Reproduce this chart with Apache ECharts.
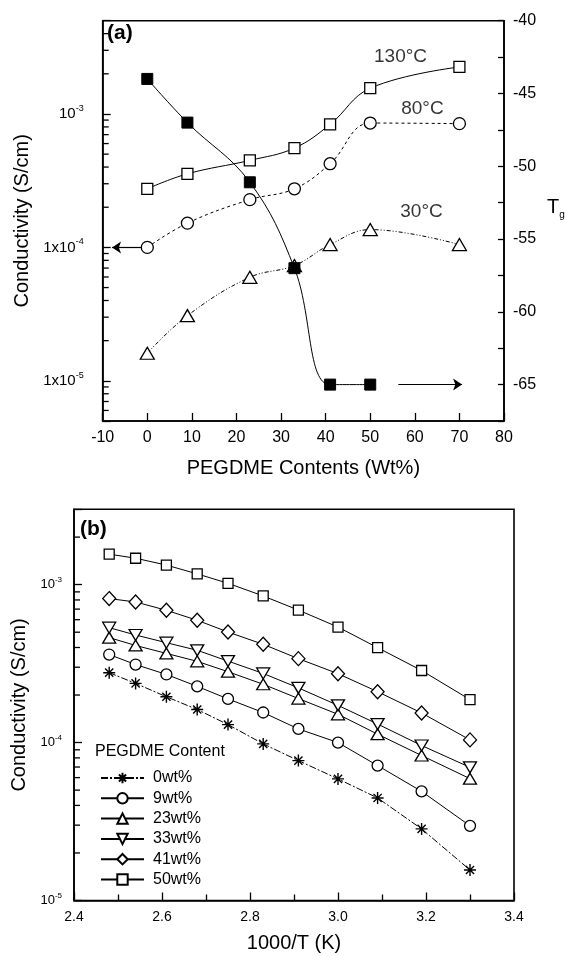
<!DOCTYPE html>
<html><head><meta charset="utf-8">
<script src="https://cdn.jsdelivr.net/npm/echarts@6/dist/echarts.min.js"></script>
<style>html,body{margin:0;padding:0;background:#fff}#c{width:567px;height:957px}</style>
</head><body><div id="c"></div>
<script>
// ---------- Panel (a) data ----------
const contents = [0, 9, 23, 33, 41, 50, 70];
const cond130 = [2.75e-4, 3.56e-4, 4.49e-4, 5.55e-4, 8.36e-4, 1.56e-3, 2.25e-3];
const cond80  = [1.0e-4, 1.52e-4, 2.28e-4, 2.75e-4, 4.24e-4, 8.55e-4, 8.46e-4];
const cond30  = [1.61e-5, 3.08e-5, 5.97e-5, 7.31e-5, 1.05e-4, 1.36e-4, 1.05e-4];
const tgContents = [0, 9, 23, 33, 41, 50];
const tgValues   = [-44.0, -47.0, -51.1, -57.0, -65.0, -65.0];
const tempNames = ['130°C', '80°C', '30°C'];
const tempLabelX = [56.8, 61.7, 61.5];
const tempLabelY = [2.68e-3, 1.1e-3, 1.85e-4];
const leftArrow  = [[-1.3, 1e-4], [-7.9, 1e-4]];
const rightArrow = [[56.3, -65], [70.6, -65]];
const aLogTickExp  = [-5, -4, -3];
const aLogTickBase = ['1x10', '1x10', '10'];

// ---------- Panel (b) data ----------
const invT = [2.48, 2.54, 2.61, 2.68, 2.75, 2.83, 2.91, 3.00, 3.09, 3.19, 3.30];
const wt0  = [2.77e-4, 2.37e-4, 1.95e-4, 1.62e-4, 1.30e-4, 9.81e-5, 7.69e-5, 5.89e-5, 4.46e-5, 2.84e-5, 1.56e-5];
const wt9  = [3.61e-4, 3.12e-4, 2.70e-4, 2.27e-4, 1.89e-4, 1.55e-4, 1.22e-4, 1.00e-4, 7.15e-5, 4.91e-5, 2.97e-5];
const wt23 = [4.62e-4, 4.12e-4, 3.67e-4, 3.27e-4, 2.81e-4, 2.34e-4, 1.90e-4, 1.51e-4, 1.13e-4, 8.28e-5, 5.91e-5];
const wt33 = [5.34e-4, 4.80e-4, 4.29e-4, 3.84e-4, 3.28e-4, 2.74e-4, 2.22e-4, 1.72e-4, 1.31e-4, 9.58e-5, 6.97e-5];
const wt41 = [8.16e-4, 7.77e-4, 6.88e-4, 5.95e-4, 5.01e-4, 4.19e-4, 3.40e-4, 2.73e-4, 2.10e-4, 1.54e-4, 1.04e-4];
const wt50 = [1.56e-3, 1.47e-3, 1.33e-3, 1.17e-3, 1.02e-3, 8.48e-4, 6.90e-4, 5.39e-4, 3.99e-4, 2.86e-4, 1.87e-4];
const bNames = ['0wt%', '9wt%', '23wt%', '33wt%', '41wt%', '50wt%'];
const bLogTickExp = [-5, -4, -3];

const FONT = 'Arial, "Liberation Sans", Helvetica, sans-serif';
const zip = (xs, ys) => xs.map((x, i) => [x, ys[i]]);

function minorLogTicks(lo, hi) {
  const out = [];
  for (let e = Math.floor(Math.log10(lo)); e <= Math.ceil(Math.log10(hi)); e++) {
    for (let m = 2; m <= 9; m++) {
      const v = m * Math.pow(10, e);
      if (v > lo * 1.0001 && v < hi * 0.9999) out.push(v);
    }
  }
  return out;
}
function logLabel(exps, bases) {
  return function (v) {
    const l = Math.log10(v);
    const r = Math.round(l);
    if (Math.abs(l - r) > 1e-6) return '';
    const i = exps.indexOf(r);
    if (i < 0) return '';
    return '{b|' + bases[i] + '}{s|' + r + '}';
  };
}
function minorTickSeries(xi, yi, xmin, ticks, len) {
  return {
    type: 'custom', xAxisIndex: xi, yAxisIndex: yi, silent: true, clip: false, z: 5,
    data: ticks.map(v => [xmin, v]),
    renderItem: function (params, api) {
      const p = api.coord([api.value(0), api.value(1)]);
      return { type: 'line', shape: { x1: p[0], y1: p[1], x2: p[0] + len, y2: p[1] },
               style: { stroke: '#000', lineWidth: 1.3 } };
    }
  };
}

const AXLINE = { show: true, onZero: false, lineStyle: { color: '#000', width: 1.6 } };
const openStyle = { color: '#fff', borderColor: '#000', borderWidth: 1.3 };
const asterisk = 'path://M5 0 L5 10 M0 5 L10 5 M1.6 1.6 L8.4 8.4 M1.6 8.4 L8.4 1.6';
const arrowMark = (pts) => ({
  silent: true, symbol: ['none', 'arrow'], symbolSize: 9, label: { show: false },
  itemStyle: { color: '#000' },
  lineStyle: { color: '#000', width: 1.2, type: 'solid' },
  data: [[{ coord: pts[0] }, { coord: pts[1] }]]
});

const chart = echarts.init(document.getElementById('c'), null, { renderer: 'canvas' });
chart.setOption({
  animation: false,
  backgroundColor: '#fff',
  textStyle: { fontFamily: FONT, color: '#000' },
  grid: [
    { left: 102.7, top: 20.7, right: 63, bottom: 536, show: true, borderColor: '#000', borderWidth: 1.6, backgroundColor: 'transparent' },
    { left: 74, top: 509.3, right: 53, bottom: 56.5, show: true, borderColor: '#000', borderWidth: 1.6, backgroundColor: 'transparent' }
  ],
  xAxis: [
    { gridIndex: 0, type: 'value', min: -10, max: 80, interval: 10,
      axisLine: AXLINE, axisTick: { inside: true, length: 8, lineStyle: { color: '#000', width: 1.3 } },
      axisLabel: { fontSize: 16, margin: 9, color: '#000' }, splitLine: { show: false },
      name: 'PEGDME Contents (Wt%)', nameLocation: 'middle', nameGap: 37,
      nameTextStyle: { fontSize: 20, color: '#000' } },
    { gridIndex: 1, type: 'value', min: 2.4, max: 3.4, interval: 0.2,
      axisLine: AXLINE, axisTick: { inside: true, length: 8, lineStyle: { color: '#000', width: 1.3 } },
      minorTick: { show: true, splitNumber: 2, length: 6, lineStyle: { color: '#000', width: 1.3 } },
      axisLabel: { fontSize: 14, margin: 10, color: '#000', formatter: v => v.toFixed(1) },
      splitLine: { show: false }, minorSplitLine: { show: false },
      name: '1000/T (K)', nameLocation: 'middle', nameGap: 33,
      nameTextStyle: { fontSize: 20, color: '#000' } }
  ],
  yAxis: [
    { gridIndex: 0, type: 'log', logBase: 10, min: 5e-6, max: 5e-3, position: 'left',
      axisLine: AXLINE, axisTick: { inside: true, length: 8, lineStyle: { color: '#000', width: 1.3 } },
      axisLabel: { margin: 19, color: '#000', formatter: logLabel(aLogTickExp, aLogTickBase),
        rich: { b: { fontSize: 15, lineHeight: 20, fontFamily: FONT }, s: { fontSize: 9, verticalAlign: 'top', fontFamily: FONT } } },
      splitLine: { show: false },
      name: 'Conductivity (S/cm)', nameLocation: 'middle', nameGap: 65,
      nameTextStyle: { fontSize: 20, color: '#000' } },
    { gridIndex: 0, type: 'value', min: -67.5, max: -40, interval: 2.5, position: 'right',
      axisLine: AXLINE, axisTick: { inside: true, length: 6, lineStyle: { color: '#000', width: 1.3 } },
      axisLabel: { fontSize: 16, margin: 9, color: '#000', formatter: v => (Math.abs(v % 5) < 1e-9 ? String(v) : '') },
      splitLine: { show: false } },
    { gridIndex: 1, type: 'log', logBase: 10, min: 1e-5, max: 3e-3, position: 'left',
      axisLine: AXLINE, axisTick: { inside: true, length: 8, lineStyle: { color: '#000', width: 1.3 } },
      axisLabel: { margin: 12, color: '#000', formatter: logLabel(bLogTickExp, ['10', '10', '10']),
        rich: { b: { fontSize: 13, lineHeight: 18, fontFamily: FONT }, s: { fontSize: 8, verticalAlign: 'top', fontFamily: FONT } } },
      splitLine: { show: false },
      name: 'Conductivity (S/cm)', nameLocation: 'middle', nameGap: 37,
      nameTextStyle: { fontSize: 20, color: '#000' } }
  ],
  legend: {
    data: bNames, orient: 'vertical', left: 95, top: 765,
    itemWidth: 43, itemHeight: 13, itemGap: 4.3,
    textStyle: { fontSize: 16, color: '#000', padding: [0, 0, 0, 4] },
    inactiveColor: '#000'
  },
  graphic: [
    { type: 'text', left: 107, top: 23, style: { text: '(a)', font: 'bold 21px ' + FONT, fill: '#000' } },
    { type: 'text', left: 80, top: 519, style: { text: '(b)', font: 'bold 21px ' + FONT, fill: '#000' } },
    { type: 'text', left: 95, top: 744, style: { text: 'PEGDME Content', font: '16px ' + FONT, fill: '#000' } },
    { type: 'text', left: 547, top: 197, style: { text: '{t|T}{g|g}',
        rich: { t: { fontSize: 20, fontFamily: FONT, lineHeight: 26 }, g: { fontSize: 10, fontFamily: FONT, verticalAlign: 'bottom' } } } }
  ],
  series: [
    minorTickSeries(0, 0, -10, minorLogTicks(5e-6, 5e-3), 6),
    minorTickSeries(1, 2, 2.4, minorLogTicks(1e-5, 3e-3), 6),
    { name: '130°C', type: 'line', xAxisIndex: 0, yAxisIndex: 0, data: zip(contents, cond130), smooth: 0.4,
      symbol: 'rect', symbolSize: 11, itemStyle: openStyle, lineStyle: { color: '#000', width: 1 }, z: 3 },
    { name: '80°C', type: 'line', xAxisIndex: 0, yAxisIndex: 0, data: zip(contents, cond80), smooth: 0.4,
      symbol: 'circle', symbolSize: 12, itemStyle: openStyle, lineStyle: { color: '#000', width: 1, type: [3, 3] }, z: 3,
      markLine: arrowMark(leftArrow) },
    { name: '30°C', type: 'line', xAxisIndex: 0, yAxisIndex: 0, data: zip(contents, cond30), smooth: 0.4,
      symbol: 'triangle', symbolSize: [14, 12], itemStyle: openStyle, lineStyle: { color: '#000', width: 1, type: [4, 2, 1, 2, 1, 2] }, z: 3 },
    { name: 'Tg', type: 'line', xAxisIndex: 0, yAxisIndex: 1, data: zip(tgContents, tgValues), smooth: 0.4,
      symbol: 'rect', symbolSize: 11, itemStyle: { color: '#000', borderColor: '#000' }, lineStyle: { color: '#000', width: 1 }, z: 4,
      markLine: arrowMark(rightArrow) },
    { name: 'tempLabels', type: 'scatter', xAxisIndex: 0, yAxisIndex: 0, symbol: 'circle', symbolSize: 0, silent: true,
      data: tempNames.map((n, i) => ({ name: n, value: [tempLabelX[i], tempLabelY[i]] })),
      label: { show: true, position: 'inside', formatter: '{b}', fontSize: 19, color: '#000', fontFamily: FONT } },

    { name: '0wt%', type: 'line', xAxisIndex: 1, yAxisIndex: 2, data: zip(invT, wt0),
      symbol: asterisk, symbolSize: 12, symbolKeepAspect: true,
      itemStyle: { color: '#000', borderColor: '#000', borderWidth: 1.4 }, lineStyle: { color: '#000', width: 1, type: [7, 2, 2, 2] } },
    { name: '9wt%', type: 'line', xAxisIndex: 1, yAxisIndex: 2, data: zip(invT, wt9),
      symbol: 'circle', symbolSize: 11, itemStyle: openStyle, lineStyle: { color: '#000', width: 1 } },
    { name: '23wt%', type: 'line', xAxisIndex: 1, yAxisIndex: 2, data: zip(invT, wt23),
      symbol: 'triangle', symbolSize: [13, 11], itemStyle: openStyle, lineStyle: { color: '#000', width: 1 } },
    { name: '33wt%', type: 'line', xAxisIndex: 1, yAxisIndex: 2, data: zip(invT, wt33),
      symbol: 'triangle', symbolRotate: 180, symbolSize: [13, 11], itemStyle: openStyle, lineStyle: { color: '#000', width: 1 } },
    { name: '41wt%', type: 'line', xAxisIndex: 1, yAxisIndex: 2, data: zip(invT, wt41),
      symbol: 'diamond', symbolSize: [13, 14], itemStyle: openStyle, lineStyle: { color: '#000', width: 1 } },
    { name: '50wt%', type: 'line', xAxisIndex: 1, yAxisIndex: 2, data: zip(invT, wt50),
      symbol: 'rect', symbolSize: 10, itemStyle: openStyle, lineStyle: { color: '#000', width: 1 } }
  ]
});
</script>
</body></html>
